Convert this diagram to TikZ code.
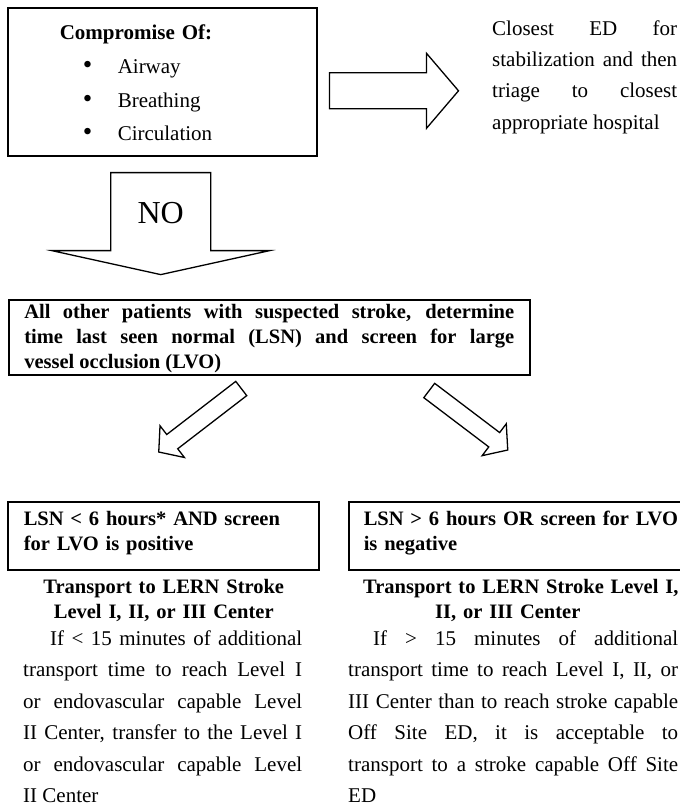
\documentclass[tikz,border=0pt]{standalone}
\usepackage{fontspec}
\setmainfont{Liberation Serif}
\usepackage{tikz}
\usetikzlibrary{calc}

% 空心箭头: 尾, 尖, 箭杆半宽, 箭头半宽, 箭头长
\newcommand{\blockarrow}[5]{%
  \coordinate (ba-base) at ($(#2)!#5!(#1)$);
  \draw[blockline] ($(#1)!#3!90:(#2)$) -- ($(ba-base)!#3!90:(#2)$) --
    ($(ba-base)!#4!90:(#2)$) -- (#2) -- ($(ba-base)!#4!-90:(#2)$) --
    ($(ba-base)!#3!-90:(#2)$) -- ($(#1)!#3!-90:(#2)$) -- cycle;
}
% 列表圆点
\newcommand{\bigbullet}{\makebox[35pt][l]{\fontsize{27}{27}\selectfont\textbullet}}

\begin{document}
\begin{tikzpicture}[x=1pt,y=-1pt,
    box/.style={draw,line width=1.5pt,inner ysep=0pt,anchor=north west},
    blockline/.style={draw,line width=1.3pt,fill=white},
    reg/.style={font={\fontsize{21}{31.4}\selectfont}},
    bld/.style={font={\fontsize{20.5}{25}\selectfont\bfseries}}]
    \useasboundingbox (0,0) rectangle (680,807);

    % 左上方框
    \node[box,font={\fontsize{21}{33.7}\selectfont},text width=205pt,inner xsep=52pt,align=left] (abc) at (7,7) {%
        \rule{0pt}{32pt}\textbf{Compromise Of:}\\
        \hspace*{23pt}\bigbullet Airway\\
        \hspace*{23pt}\bigbullet Breathing\\
        \hspace*{23pt}\bigbullet Circulation\rule[-15pt]{0pt}{15pt}};

    % 右上文字
    \node[reg,text width=185pt,align=justify,inner sep=0pt,anchor=base west] (closest) at (492,35) {%
        Closest ED for\linebreak stabilization and then\linebreak
        triage to closest\linebreak appropriate hospital};

    % 中间方框
    \node[box,bld,text width=490pt,inner xsep=15.5pt,align=justify] (allpat) at (8,299) {%
        \rule{0pt}{19pt}All other patients with suspected stroke, determine\linebreak
        time last seen normal (LSN) and screen for large\linebreak
        vessel occlusion (LVO)\rule[-6pt]{0pt}{6pt}};

    % 下方两个方框
    \node[box,bld,text width=279pt,inner xsep=16pt,align=left] (lsnlow) at (7,501) {%
        \rule{0pt}{24pt}LSN < 6 hours* AND screen\\ for LVO is positive\rule[-19pt]{0pt}{19pt}};
    \node[box,bld,text width=345pt,inner xsep=15pt,align=left] (lsnhigh) at (348,501) {%
        \rule{0pt}{24pt}LSN > 6 hours OR screen for LVO\\ is negative\rule[-19pt]{0pt}{19pt}};

    % 标题
    \node[bld,align=center,anchor=base,text width=300pt,inner sep=0pt] (hdlow) at ($(lsnlow.south)+(0.5,23)$) {%
        Transport to LERN Stroke\\ Level I, II, or III Center};
    \node[bld,align=left,anchor=base west,text width=360pt,inner sep=0pt] (hdhigh) at ($(lsnhigh.south west)+(15,23)$) {%
        Transport to LERN Stroke Level I,\\ \hspace*{72pt}II, or III Center};

    % 正文
    \node[reg,align=justify,anchor=base west,text width=279pt,inner sep=0pt] (txtlow) at ($(lsnlow.south west)+(16,75)$) {%
        \hspace*{27pt}If < 15 minutes of additional\linebreak
        transport time to reach Level I\linebreak
        or endovascular capable Level\linebreak
        II Center, transfer to the Level I\linebreak
        or endovascular capable Level\linebreak
        II Center};
    \node[reg,align=justify,anchor=base west,text width=330pt,inner sep=0pt] (txthigh) at ($(lsnhigh.south west)+(0,75)$) {%
        \hspace*{25pt}If > 15 minutes of additional\linebreak
        transport time to reach Level I, II, or\linebreak
        III Center than to reach stroke capable\linebreak
        Off Site ED, it is acceptable to\linebreak
        transport to a stroke capable Off Site\linebreak
        ED};

    % 箭头
    \coordinate (ra-tail) at ($(abc.east)+(12,9)$);
    \coordinate (ra-tip) at ($(abc.east)+(141,9)$);
    \blockarrow{ra-tail}{ra-tip}{18pt}{37.5pt}{32pt}

    \coordinate (no-tail) at ($(abc.south)+(-1.5,16)$);
    \coordinate (no-tip) at ($(abc.south)+(-1.5,118)$);
    \blockarrow{no-tail}{no-tip}{50pt}{109pt}{24pt}
    \node[font={\fontsize{32}{32}\selectfont}] (no) at ($(no-tail)!0.4!(no-tip)$) {NO};

    \coordinate (la-tail) at ($(allpat.south)+(-28,13)$);
    \coordinate (la-tip) at ($(lsnlow.north)+(-4.5,-49)$);
    \blockarrow{la-tail}{la-tip}{9pt}{20pt}{17pt}

    \coordinate (rb-tail) at ($(allpat.south)+(160,15)$);
    \coordinate (rb-tip) at ($(lsnhigh.north)+(-28.5,-51)$);
    \blockarrow{rb-tail}{rb-tip}{9pt}{20pt}{17pt}
\end{tikzpicture}
\end{document}
